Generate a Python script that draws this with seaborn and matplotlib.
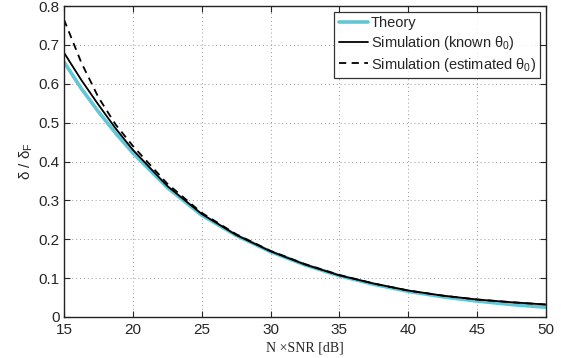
import numpy as np
import pandas as pd
import matplotlib
matplotlib.use('Agg')
import matplotlib.pyplot as plt
import seaborn as sns

# values
snr_db = [15, 16.25, 17.5, 18.75, 20, 22.5, 25, 27.5, 30, 32.5, 35, 37.5, 40, 42.5, 45, 47.5, 50]
theory = [0.656, 0.588, 0.528, 0.473, 0.422, 0.333, 0.262, 0.21, 0.168, 0.134, 0.106, 0.084,
          0.066, 0.052, 0.041, 0.032, 0.025]
known = [0.68, 0.61, 0.546, 0.485, 0.43, 0.337, 0.265, 0.211, 0.169, 0.135, 0.107, 0.086,
         0.068, 0.055, 0.045, 0.038, 0.032]
estimated = [0.765, 0.655, 0.565, 0.495, 0.44, 0.343, 0.268, 0.213, 0.17, 0.136, 0.108, 0.086,
             0.068, 0.055, 0.045, 0.038, 0.032]

sns.set_style('ticks')
plt.rcParams['font.family'] = ['Liberation Sans', 'DejaVu Sans']
plt.rcParams['mathtext.default'] = 'regular'

fig = plt.figure(figsize=(5.61, 3.58), dpi=100)
ax = fig.add_axes([64 / 561, 1 - 317 / 358, (546 - 64) / 561, (317 - 6) / 358])

sns.lineplot(x=snr_db, y=theory, ax=ax, color='#62c6d6', linewidth=2.6, label='Theory')
sns.lineplot(x=snr_db, y=known, ax=ax, color='black', linewidth=1.3,
             label=r'Simulation (known $\theta_0$)')
sns.lineplot(x=snr_db, y=estimated, ax=ax, color='black', linewidth=1.3,
             linestyle=(0, (4, 3)), label=r'Simulation (estimated $\theta_0$)')

ax.set_xlim(15, 50)
ax.set_ylim(0, 0.8)
ax.set_xticks(np.arange(15, 51, 5))
ax.set_yticks(np.arange(0, 0.81, 0.1))
ax.set_yticklabels(['0', '0.1', '0.2', '0.3', '0.4', '0.5', '0.6', '0.7', '0.8'])
ax.tick_params(direction='in', top=True, right=True, labelsize=11, length=4, width=0.8)
ax.tick_params(axis='x', pad=4.5)
ax.tick_params(axis='y', pad=3)
ax.grid(True, linestyle=(0, (1, 3)), color='#999999', linewidth=0.7)
for s in ax.spines.values():
    s.set_linewidth(1.0)
    s.set_color('#222222')

ax.set_xlabel('N ×SNR [dB]', family=['Liberation Serif', 'DejaVu Serif'], fontsize=10, labelpad=3)
ax.set_ylabel(r'$\delta$ / $\delta_F$', fontsize=11, labelpad=3)

leg = ax.legend(loc='upper right', bbox_to_anchor=(0.988, 0.981), fontsize=10.5, frameon=True,
                fancybox=False, edgecolor='black', handlelength=2.0, handletextpad=0.2,
                borderpad=0.3, labelspacing=0.25, borderaxespad=0)
leg.get_frame().set_linewidth(0.9)

fig.savefig('out.png', dpi=100)
